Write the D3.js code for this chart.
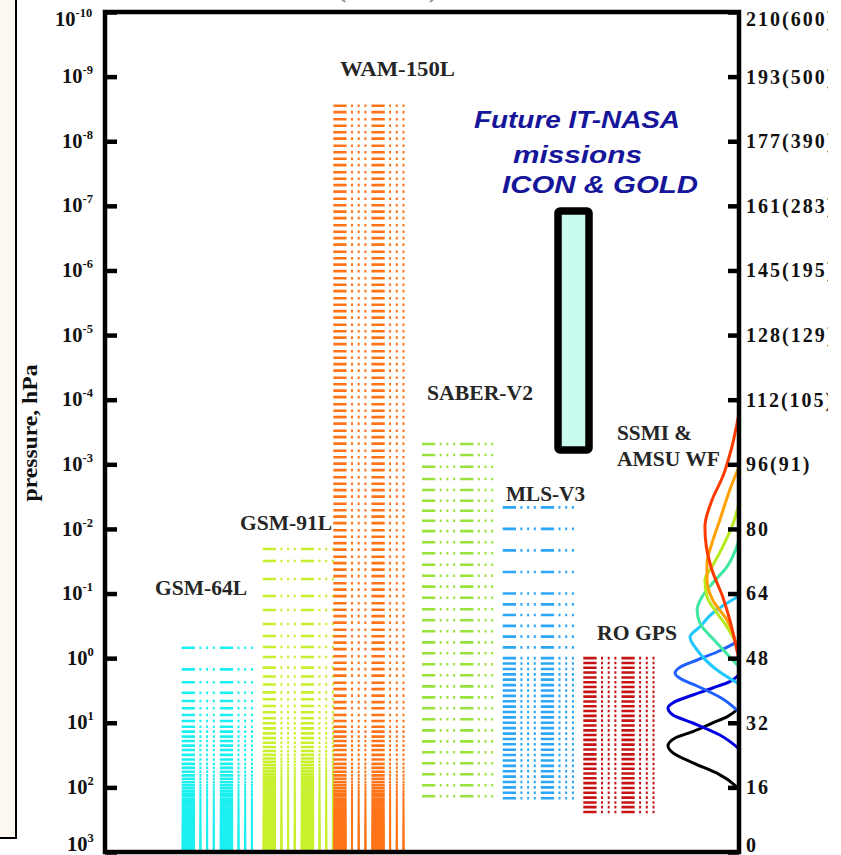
<!DOCTYPE html>
<html>
<head>
<meta charset="utf-8">
<script src="https://cdn.jsdelivr.net/npm/d3@7/dist/d3.min.js"></script>
<style>
  html, body { margin: 0; padding: 0; background: #ffffff; overflow: hidden; }
  svg { display: block; }
</style>
</head>
<body>
<svg id="chart" width="841" height="855"></svg>
<script>
// ---------------- data ----------------
// Left axis: decades of pressure (hPa), exponents of 10
const pressureTickExponents = [-10, -9, -8, -7, -6, -5, -4, -3, -2, -1, 0, 1, 2, 3];
// Right axis: height in km (temperature, K) at the same decade positions
const heightTickLabels = ["210(600)", "193(500)", "177(390)", "161(283)", "145(195)", "128(129)",
  "112(105)", "96(91)", "80", "64", "48", "32", "16", "0"];

const instruments = ["GSM-64L", "GSM-91L", "WAM-150L", "SABER-V2", "MLS-V3", "RO GPS"];

// Model / retrieval levels, hPa
const gsm64Levels = [0.69, 1.49, 2.36, 3.43, 4.6, 5.97, 7.58, 9.39, 11.5, 13.7, 16.4, 19.2, 22.6, 26.4,
  31.4, 37.0, 43.2, 49.9, 57.3, 65.2, 73.7, 82.8, 92.5, 102.8, 113.6, 125.1, 137.1, 149.7, 162.9, 176.7,
  191.1, 206.0, 221.6, 237.7, 254.4, 271.7, 289.6, 308.1, 327.1, 346.8, 367.0, 387.8, 409.2, 431.2, 453.8,
  476.9, 500.7, 525.0, 549.9, 575.4, 601.5, 628.2, 655.4, 683.3, 711.7, 740.7, 770.3, 800.5, 831.3, 862.6,
  894.6, 927.1, 960.2, 993.9];

const gsm91Levels = [0.0205, 0.0313, 0.0596, 0.109, 0.18, 0.296, 0.454, 0.671, 0.959, 1.40, 1.92, 2.56,
  3.38, 4.33, 5.50, 6.89, 8.53, 10.2, 12.2, 14.6, 17.3, 20.4, 23.7, 27.4, 31.4, 35.7, 40.3, 45.2, 50.5,
  56.0, 61.9, 68.1, 74.7, 81.5, 88.6, 96.1, 103.9, 112.0, 120.4, 129.2, 138.2, 147.6, 157.3, 167.3, 177.6,
  188.3, 199.2, 210.5, 222.1, 234.0, 246.2, 258.8, 271.6, 284.8, 298.3, 312.1, 326.2, 340.7, 355.5, 370.6,
  386.0, 401.7, 417.7, 434.0, 450.7, 467.6, 484.9, 502.6, 520.5, 538.8, 557.3, 576.2, 595.4, 614.9, 634.8,
  654.9, 675.4, 696.2, 717.3, 738.7, 760.5, 782.5, 804.9, 827.6, 850.6, 873.9, 897.5, 921.5, 945.7, 970.3,
  995.2];

// WAM upper levels given as log10(hPa); lower levels follow the GSM-64L grid (hPa)
const wamUpperLog10P = [-8.55, -8.45, -8.34, -8.24, -8.14, -8.04, -7.93, -7.83, -7.73, -7.63, -7.52,
  -7.42, -7.32, -7.22, -7.11, -7.01, -6.91, -6.81, -6.70, -6.60, -6.50, -6.40, -6.29, -6.19, -6.09, -5.99,
  -5.88, -5.78, -5.68, -5.57, -5.47, -5.37, -5.27, -5.16, -5.06, -4.96, -4.86, -4.75, -4.65, -4.55, -4.45,
  -4.34, -4.24, -4.14, -4.04, -3.93, -3.83, -3.73, -3.63, -3.52, -3.42, -3.32, -3.21, -3.11, -3.01, -2.91,
  -2.80, -2.70, -2.60, -2.50, -2.39, -2.29, -2.19, -2.09, -1.98, -1.88, -1.78, -1.68, -1.57, -1.47, -1.37,
  -1.27, -1.16, -1.06, -0.96, -0.85, -0.75, -0.65, -0.55, -0.44, -0.34, -0.24, -0.14, -0.03, 0.07, 0.17,
  0.27, 0.38, 0.48, 0.58, 0.68];
const wamLowerLevels = [5.97, 7.58, 9.39, 11.5, 13.7, 16.4, 19.2, 22.6, 26.4, 31.4, 37.0, 43.2, 49.9, 57.3,
  65.2, 73.7, 82.8, 92.5, 102.8, 113.6, 125.1, 137.1, 149.7, 162.9, 176.7, 191.1, 206.0, 221.6, 237.7,
  254.4, 271.7, 289.6, 308.1, 327.1, 346.8, 367.0, 387.8, 409.2, 431.2, 453.8, 476.9, 500.7, 525.0, 549.9,
  575.4, 601.5, 628.2, 655.4, 683.3, 711.7, 740.7, 770.3, 800.5, 831.3, 862.6, 894.6, 927.1, 960.2, 993.9];

const saberLevels = [4.85e-4, 7.18e-4, 1.09e-3, 1.69e-3, 2.50e-3, 3.66e-3, 5.22e-3, 7.46e-3, 0.0108,
  0.0161, 0.0238, 0.0358, 0.0530, 0.0783, 0.116, 0.175, 0.259, 0.384, 0.569, 0.841, 1.24, 1.84, 2.73,
  4.04, 5.97, 8.83, 13.1, 19.4, 28.6, 42.4, 62.7, 92.9, 137];

const mlsLevels = [0.00464, 0.01, 0.0215, 0.0464, 0.1, 0.147, 0.215, 0.316, 0.464, 0.681, 1.0, 1.21, 1.47,
  1.78, 2.15, 2.61, 3.16, 3.83, 4.64, 5.62, 6.81, 8.25, 10, 12.1, 14.7, 17.8, 21.5, 26.1, 31.6, 38.3, 46.4,
  56.2, 68.1, 82.5, 100, 121, 147];

const roGpsLevels = [1.00, 1.19, 1.41, 1.67, 1.99, 2.36, 2.79, 3.32, 3.94, 4.68, 5.55, 6.58, 7.82, 9.27,
  11.0, 13.1, 15.5, 18.4, 21.8, 25.9, 30.8, 36.5, 43.4, 51.4, 61.1, 72.4, 85.9, 102, 121, 144, 171, 202, 240];

// ICON & GOLD pressure coverage, hPa (top, bottom)
const iconGoldRange = [1.2e-7, 6.0e-4];

// SSMI & AMSU weighting functions: heights (km) and normalised weights
const wfHeightsKm = [
  [15.8, 16.3, 19.7, 22.3, 24.8, 26.5, 28.5, 30.1, 32.3, 33.8, 36.0],
  [25.8, 29.25, 32.25, 34.25, 36.0, 37.6, 39.25, 41.0, 42.6, 44.3],
  [35.0, 38.5, 41.5, 43.3, 44.7, 46.3, 48.0, 50.0, 52.8],
  [42.0, 45.5, 50.5, 53.75, 56.3, 59.75, 64.0],
  [46.3, 52.25, 57.2, 60.5, 63.8, 67.25, 71.3, 78.0],
  [51.0, 56.3, 59.75, 63.8, 68.0, 71.3, 76.3, 82.25, 87.25],
  [49.25, 58.0, 63.0, 68.0, 72.2, 77.2, 83.0, 90.5, 96.3],
  [48.0, 58.0, 63.8, 70.5, 76.3, 81.3, 88.0, 93.8, 101.3, 109.7]
];
const wfWeights = [
  [0, 0.03, 0.31, 0.65, 0.93, 1.0, 0.9, 0.65, 0.37, 0.17, 0],
  [0, 0.27, 0.65, 0.93, 1.0, 0.9, 0.65, 0.37, 0.13, 0],
  [0, 0.25, 0.59, 0.82, 0.9, 0.82, 0.59, 0.31, 0],
  [0, 0.31, 0.59, 0.69, 0.55, 0.37, 0],
  [0, 0.31, 0.55, 0.59, 0.52, 0.37, 0.17, 0],
  [0, 0.17, 0.31, 0.45, 0.48, 0.38, 0.23, 0.08, 0],
  [0, 0.17, 0.37, 0.45, 0.45, 0.38, 0.27, 0.13, 0],
  [0, 0.13, 0.23, 0.38, 0.46, 0.48, 0.38, 0.23, 0.1, 0]
];
const wfColors = ["#000000", "#0000e0", "#1f60ff", "#20c8ff", "#3fe8a0", "#b6ea1e", "#ffa200", "#ff3a00"];

// ---------------- layout ----------------
const svg = d3.select("#chart");
const plot = { left: 105, right: 739, top: 12, bottom: 852 };
const serif = "'Liberation Serif', 'Times New Roman', Times, serif";
const sans = "'Liberation Sans', Arial, Helvetica, sans-serif";

const yP = d3.scaleLog().domain([1e-10, 1e3]).range([plot.top, plot.bottom]);
const yKm = d3.scaleLinear().domain([0, 210]).range([plot.bottom, plot.top]);
const xW = d3.scaleLinear().domain([0, 1]).range([plot.right, plot.right - 71]);
const xCol = d3.scaleOrdinal()
  .domain([...instruments, "ICON & GOLD"])
  .range([181.7, 262.7, 333.3, 422, 502.7, 583.3, 558]);
const colorOf = d3.scaleOrdinal()
  .domain(instruments)
  .range(["#1cefef", "#c8f02c", "#ff7418", "#98e23a", "#2ca6f8", "#c81414"]);

const levelSets = {
  "GSM-64L": gsm64Levels,
  "GSM-91L": gsm91Levels,
  "WAM-150L": wamUpperLog10P.map(v => Math.pow(10, v)).concat(wamLowerLevels),
  "SABER-V2": saberLevels,
  "MLS-V3": mlsLevels,
  "RO GPS": roGpsLevels
};

// left framed panel edge
svg.append("rect")
  .attr("x", -5).attr("y", -5).attr("width", 21).attr("height", 843)
  .attr("fill", "#fdf9f0").attr("stroke", "#000").attr("stroke-width", 2);

// heading running off the top edge of the figure
svg.append("text")
  .attr("x", 338).attr("y", -2.5)
  .attr("font-family", serif).attr("font-weight", "bold").attr("font-size", 20)
  .attr("fill", "#888")
  .attr("textLength", 99).attr("lengthAdjust", "spacingAndGlyphs")
  .text("(altitude)");

// level bars: dash-dot-dot-dot rows at each level
const barWidth = 72;
const dashPattern = "13.3 4.4 2 4.7 2 4.7 2 5";
const bars = svg.append("g").attr("class", "levels");
instruments.forEach(name => {
  const x0 = xCol(name);
  bars.append("g")
    .selectAll("line")
    .data(levelSets[name])
    .join("line")
    .attr("x1", x0).attr("x2", x0 + barWidth)
    .attr("y1", d => yP(d)).attr("y2", d => yP(d))
    .attr("stroke", colorOf(name))
    .attr("stroke-width", 2.6)
    .attr("stroke-dasharray", dashPattern);
});

// ICON & GOLD coverage box
svg.append("rect")
  .attr("x", xCol("ICON & GOLD")).attr("width", 31)
  .attr("y", yP(iconGoldRange[0]))
  .attr("height", yP(iconGoldRange[1]) - yP(iconGoldRange[0]))
  .attr("rx", 2)
  .attr("fill", "#c9fbee").attr("stroke", "#000").attr("stroke-width", 7.5);

// weighting functions, drawn top-down so the curve is monotone in y
const wfLine = d3.line()
  .x(d => xW(d[1]))
  .y(d => yKm(d[0]))
  .curve(d3.curveMonotoneY);
const wf = svg.append("g").attr("class", "weighting");
wfHeightsKm.forEach((hs, i) => {
  const pts = hs.map((h, j) => [h, wfWeights[i][j]]).sort((a, b) => b[0] - a[0]);
  wf.append("path")
    .attr("d", wfLine(pts))
    .attr("fill", "none")
    .attr("stroke", wfColors[i])
    .attr("stroke-width", 3)
    .attr("stroke-linejoin", "round");
});

// axes
const decades = pressureTickExponents.map(e => Math.pow(10, e));
const axL = svg.append("g")
  .attr("transform", `translate(${plot.left},0)`)
  .call(d3.axisLeft(yP).tickValues(decades).tickSizeInner(-12).tickSizeOuter(0).tickFormat(""));
axL.select(".domain").remove();
axL.selectAll(".tick line").attr("stroke", "#000").attr("stroke-width", 4.5);

const last = pressureTickExponents.length - 1;
pressureTickExponents.forEach((e, i) => {
  const y = yP(Math.pow(10, e)) + 6.6 + (i === 0 ? 7 : i === last ? -7.5 : 0);
  const x = e === -10 ? 55 : (e < 0 ? 62 : 67);
  const t = svg.append("text")
    .attr("x", x).attr("y", y)
    .attr("font-family", serif).attr("font-weight", "bold").attr("font-size", 20.5)
    .attr("fill", "#111");
  t.append("tspan").text("10");
  t.append("tspan").attr("dy", -9).attr("font-size", 12.5).text(String(e));
});

svg.append("defs").append("clipPath").attr("id", "rightClip")
  .append("rect").attr("x", plot.right - 20).attr("y", -10).attr("width", 828 - plot.right + 20).attr("height", 880);

const labelClip = svg.append("g").attr("clip-path", "url(#rightClip)");
const axR = labelClip.append("g")
  .attr("transform", `translate(${plot.right},0)`)
  .call(d3.axisRight(yP).tickValues(decades).tickSizeInner(-11).tickSizeOuter(0).tickPadding(7)
    .tickFormat((d, i) => heightTickLabels[i]));
axR.select(".domain").remove();
axR.selectAll(".tick line").attr("stroke", "#000").attr("stroke-width", 4.5);
axR.selectAll(".tick text")
  .attr("font-family", serif).attr("font-weight", "bold").attr("font-size", 20)
  .attr("letter-spacing", 2).attr("fill", "#111")
  .attr("dy", (d, i) => i === 0 ? "0.65em" : i === last ? "-0.05em" : "0.32em");

// plot frame
svg.append("rect")
  .attr("x", plot.left).attr("y", plot.top)
  .attr("width", plot.right - plot.left).attr("height", plot.bottom - plot.top)
  .attr("fill", "none").attr("stroke", "#000").attr("stroke-width", 4.5);

// y-axis title
svg.append("text")
  .attr("transform", "translate(37,433) rotate(-90)")
  .attr("text-anchor", "middle")
  .attr("font-family", serif).attr("font-weight", "bold").attr("font-size", 20)
  .attr("fill", "#111")
  .attr("textLength", 137).attr("lengthAdjust", "spacingAndGlyphs")
  .text("pressure, hPa");

// instrument labels
const labelLayout = [
  { text: "WAM-150L", x: 340, y: 76, w: 115 },
  { text: "GSM-91L", x: 240, y: 530, w: 92 },
  { text: "GSM-64L", x: 155, y: 595, w: 92 },
  { text: "SABER-V2", x: 427, y: 400, w: 106 },
  { text: "MLS-V3", x: 506, y: 501, w: 79 },
  { text: "RO GPS", x: 597, y: 640, w: 80 },
  { text: "SSMI &", x: 617, y: 440, w: 75 },
  { text: "AMSU WF", x: 617, y: 466, w: 103 }
];
svg.append("g").selectAll("text").data(labelLayout).join("text")
  .attr("x", d => d.x).attr("y", d => d.y)
  .attr("font-family", serif).attr("font-weight", "bold").attr("font-size", 20)
  .attr("fill", "#262626")
  .attr("textLength", d => d.w).attr("lengthAdjust", "spacingAndGlyphs")
  .text(d => d.text);

// mission note
const noteLayout = [
  { text: "Future IT-NASA", x: 474, y: 128, w: 206 },
  { text: "missions", x: 513, y: 163, w: 129 },
  { text: "ICON & GOLD", x: 502, y: 193, w: 196 }
];
svg.append("g").selectAll("text").data(noteLayout).join("text")
  .attr("x", d => d.x).attr("y", d => d.y)
  .attr("font-family", sans).attr("font-weight", "bold").attr("font-style", "italic")
  .attr("font-size", 24).attr("fill", "#16169a")
  .attr("textLength", d => d.w).attr("lengthAdjust", "spacingAndGlyphs")
  .text(d => d.text);
</script>
</body>
</html>
